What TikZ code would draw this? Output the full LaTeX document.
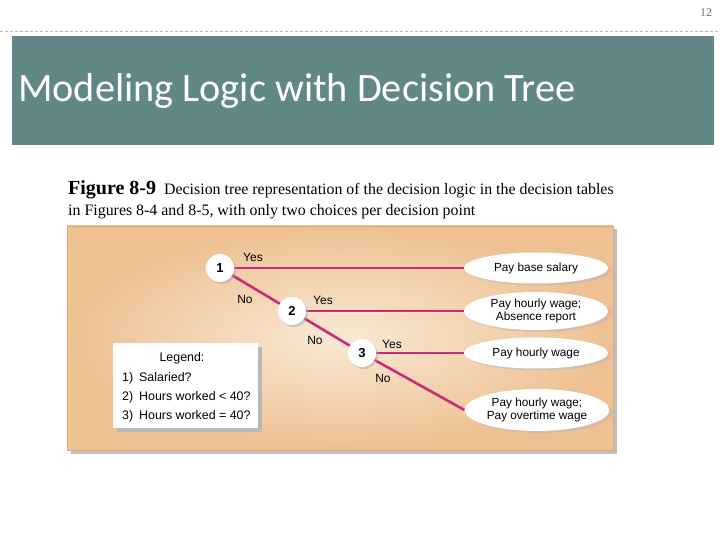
\documentclass[tikz,border=0pt]{standalone}
\usepackage{fontspec}
\setmainfont{Liberation Sans}
\newfontfamily\titlefont{Carlito}
\newfontfamily\capfont{Liberation Serif}
\usetikzlibrary{positioning, shapes.geometric, shadows}

\definecolor{slidebar}{RGB}{97,136,135}
\definecolor{armcol}{RGB}{200,44,122}
\definecolor{panelin}{RGB}{249,233,212}
\definecolor{panelout}{RGB}{238,192,146}
\definecolor{panelrim}{RGB}{224,168,118}
\definecolor{rulecol}{RGB}{170,186,196}

\pgfdeclarelayer{back}
\pgfdeclarelayer{arms}
\pgfsetlayers{back,arms,main}

\begin{document}
\begin{tikzpicture}[x=1pt, y=-1pt,
        every node/.style={font=\fontsize{11.8}{13.5}\selectfont, inner sep=1pt},
        choice/.style={circle, fill=white, minimum size=28pt, font=\fontsize{13}{14}\selectfont\bfseries,
                       drop shadow={shadow xshift=2pt, shadow yshift=-2pt, fill=black!32}},
        outcome/.style={ellipse, fill=white, minimum width=144pt, align=center,
                        drop shadow={shadow xshift=3pt, shadow yshift=-2pt, fill=black!28}},
        arm/.style={draw=armcol, line width=2.6pt},
        tag/.style={font=\fontsize{12}{13}\selectfont},
        legline/.style={anchor=west, font=\fontsize{12.4}{14}\selectfont}]
\useasboundingbox (0,0) rectangle (720,540);

% slide header
\node[font=\capfont\fontsize{12}{14}\selectfont, text=black!55] (pagenum) at (706,13) {12};
\draw[rulecol, dashed, dash pattern=on 3pt off 2pt] (0,31) -- (720,31);
\fill[slidebar] (12,36) rectangle (714,145);
\node[anchor=west, text=white, font=\titlefont\fontsize{40.3}{44}\selectfont] (title) at (17,91)
    {Modeling Logic with Decision Tree};

% caption
\node[anchor=north west, align=left, inner sep=0pt, font=\capfont\fontsize{15.9}{21}\selectfont] (caption) at (68,180)
    {{\fontsize{20}{21}\selectfont\bfseries Figure 8-9}\hspace{8pt}Decision tree representation of the decision logic in the decision tables\\
     in Figures 8-4 and 8-5, with only two choices per decision point};

% panel
\begin{pgfonlayer}{back}
\fill[black!25] (71,229) rectangle (617,454);
\shade[inner color=panelin, outer color=panelout] (67,226) rectangle (613,450);
\draw[panelrim, line width=0.8pt] (67,226) rectangle (613,450);
\end{pgfonlayer}

% decision points and outcomes
\node[choice] (n1) at (220,268) {1};
\node[choice] (n2) at (292,311) {2};
\node[choice] (n3) at (362,353) {3};

\node[outcome, minimum height=31pt] (out1) at (536,268) {Pay base salary};
\node[outcome, minimum height=38pt] (out2) at (536,311) {Pay hourly wage;\\Absence report};
\node[outcome, minimum height=31pt] (out3) at (536,353) {Pay hourly wage};
\node[outcome, minimum height=42pt] (out4) at (537,410) {Pay hourly wage;\\Pay overtime wage};

\begin{pgfonlayer}{arms}
\draw[arm] (n1) -- (out1.west);
\draw[arm] (n1) -- (n2);
\draw[arm] (n2) -- (out2.west);
\draw[arm] (n2) -- (n3);
\draw[arm] (n3) -- (out3.west);
\draw[arm] (n3) -- (out4.west);
\end{pgfonlayer}

\node[tag] (yes1) at (253,257) {Yes};
\node[tag] (no1)  at (245,299) {No};
\node[tag] (yes2) at (323,300) {Yes};
\node[tag] (no2)  at (315,340) {No};
\node[tag] (yes3) at (392,344) {Yes};
\node[tag] (no3)  at (383,378) {No};

% legend
\fill[black!28] (117,347) rectangle (262,432);
\fill[white] (113,343) rectangle (258,428);
\node[font=\fontsize{12.4}{14}\selectfont] (leg) at (182,358) {Legend:};
\node[legline] (leg1) at (121,378) {1)\hspace{6pt}Salaried?};
\node[legline] (leg2) at (121,397) {2)\hspace{6pt}Hours worked < 40?};
\node[legline] (leg3) at (121,416) {3)\hspace{6pt}Hours worked = 40?};
\end{tikzpicture}
\end{document}
